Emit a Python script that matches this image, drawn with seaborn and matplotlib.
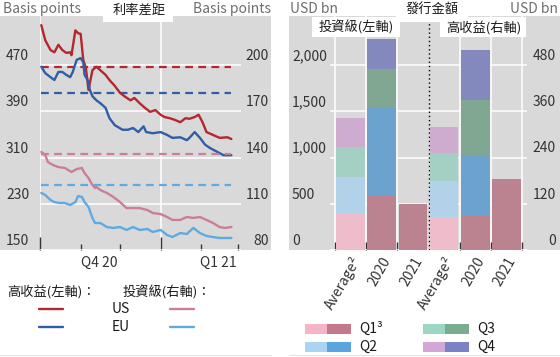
import numpy as np
import pandas as pd
import matplotlib
matplotlib.use("Agg")
from matplotlib import pyplot as plt
import matplotlib.dates as mdates
from matplotlib.patches import Rectangle
from matplotlib.lines import Line2D
from matplotlib.transforms import blended_transform_factory, ScaledTranslation
import seaborn as sns

# ---- spreads (left panel), basis points ----
hy_us_dates = ['2020-10-02', '2020-10-05', '2020-10-09', '2020-10-12', '2020-10-15', '2020-10-18',
               '2020-10-21', '2020-10-24', '2020-10-25', '2020-10-28', '2020-10-30', '2020-11-01',
               '2020-11-03', '2020-11-05', '2020-11-07', '2020-11-10', '2020-11-13', '2020-11-16',
               '2020-11-20', '2020-11-23', '2020-11-27', '2020-12-01', '2020-12-05', '2020-12-09',
               '2020-12-12', '2020-12-16', '2020-12-20', '2020-12-24', '2020-12-28', '2021-01-01',
               '2021-01-04', '2021-01-08', '2021-01-12', '2021-01-16', '2021-01-20', '2021-01-23',
               '2021-01-27', '2021-01-30', '2021-02-02', '2021-02-05', '2021-02-10', '2021-02-15',
               '2021-02-21', '2021-02-24']
hy_us = [539, 513, 496, 492, 505, 496, 491, 492, 487, 530, 525, 524, 479, 465, 427, 461, 467, 461,
         453, 444, 434, 422, 415, 409, 413, 404, 396, 389, 392, 384, 380, 378, 375, 371, 378, 377,
         380, 384, 371, 354, 349, 344, 345, 342]

hy_eu_dates = ['2020-10-02', '2020-10-05', '2020-10-09', '2020-10-12', '2020-10-15', '2020-10-18',
               '2020-10-21', '2020-10-24', '2020-10-26', '2020-10-29', '2020-11-01', '2020-11-03',
               '2020-11-04', '2020-11-07', '2020-11-08', '2020-11-10', '2020-11-13', '2020-11-16',
               '2020-11-20', '2020-11-23', '2020-11-27', '2020-12-03', '2020-12-07', '2020-12-11',
               '2020-12-15', '2020-12-19', '2020-12-21', '2020-12-26', '2021-01-01', '2021-01-06',
               '2021-01-10', '2021-01-16', '2021-01-21', '2021-01-23', '2021-01-27', '2021-01-31',
               '2021-02-04', '2021-02-08', '2021-02-13', '2021-02-18', '2021-02-24']
hy_eu = [467, 456, 449, 444, 458, 458, 453, 449, 458, 479, 482, 475, 453, 441, 427, 416, 409, 404,
         396, 378, 366, 358, 358, 361, 354, 364, 354, 352, 354, 349, 344, 345, 340, 344, 354, 344,
         332, 326, 320, 314, 314]

ig_us_dates = ['2020-10-02', '2020-10-05', '2020-10-07', '2020-10-11', '2020-10-15', '2020-10-20',
               '2020-10-25', '2020-10-29', '2020-11-02', '2020-11-04', '2020-11-07', '2020-11-10',
               '2020-11-12', '2020-11-13', '2020-11-16', '2020-11-21', '2020-11-26', '2020-12-01',
               '2020-12-06', '2020-12-11', '2020-12-16', '2020-12-22', '2020-12-26', '2021-01-01',
               '2021-01-06', '2021-01-10', '2021-01-16', '2021-01-21', '2021-01-26', '2021-01-31',
               '2021-02-05', '2021-02-10', '2021-02-15', '2021-02-19', '2021-02-24']
ig_us = [143.6, 141.6, 137.1, 135.1, 133.8, 133.2, 130.6, 132.5, 133.2, 129.9, 126.7, 122.2,
         120.2, 120.9, 118.9, 117.0, 114.4, 111.1, 107.2, 107.2, 107.2, 105.9, 104.0, 103.3,
         101.4, 99.5, 99.5, 101.4, 100.8, 101.4, 99.5, 97.5, 94.9, 94.3, 94.9]

ig_eu_dates = ['2020-10-02', '2020-10-05', '2020-10-09', '2020-10-12', '2020-10-16', '2020-10-20',
               '2020-10-24', '2020-10-28', '2020-10-30', '2020-11-02', '2020-11-04', '2020-11-07',
               '2020-11-10', '2020-11-12', '2020-11-16', '2020-11-21', '2020-11-26', '2020-12-01',
               '2020-12-06', '2020-12-11', '2020-12-16', '2020-12-22', '2020-12-26', '2021-01-01',
               '2021-01-06', '2021-01-10', '2021-01-16', '2021-01-21', '2021-01-26', '2021-01-31',
               '2021-02-05', '2021-02-10', '2021-02-15', '2021-02-24']
ig_eu = [117.0, 115.7, 112.4, 111.1, 110.5, 110.5, 109.2, 111.1, 115.0, 114.4, 111.1, 107.9,
         100.8, 97.5, 97.5, 94.9, 94.3, 94.9, 93.0, 94.9, 93.0, 93.6, 91.7, 93.0,
         89.7, 88.4, 91.0, 90.4, 94.3, 91.0, 89.1, 88.4, 87.8, 87.8]

# long-term averages (dashed)
hy_us_avg, hy_eu_avg = 466, 421
ig_us_avg, ig_eu_avg = 142, 122

left_ticks = [150, 230, 310, 390, 470]
right_ticks = [80, 110, 140, 170, 200]

# ---- issuance (right panel), USD bn ----
bar_cats = ['Average²', '2020', '2021']
ig_average = [403, 383, 324, 314]
ig_2020 = [595, 941, 422, 323]
ig_2021 = [497]
hy_average = [85, 94, 72, 68]
hy_2020 = [91, 156, 143, 128]
hy_2021 = [183]
ig_ticks = [0, 500, 1000, 1500, 2000]
ig_tick_labels = ['0', '500', '1,000', '1,500', '2,000']
hy_ticks = [0, 120, 240, 360, 480]

# ---- styles ----
W, H = 560, 357
GRAY = '#d9d9d9'
TICK_C = '#333333'
UNIT_C = '#6e6e6e'
C_HY_US, C_HY_EU = '#b3282d', '#2f5da8'
C_IG_US, C_IG_EU = '#cc7e95', '#5eaae3'
LIGHT = ['#f6b4c8', '#a9d4f2', '#9cd7c6', '#d2a6d6']
DARK = ['#c4788b', '#5ba5de', '#7aad90', '#7a82c6']
FS = 10

sns.set_theme(style="darkgrid", rc={"axes.facecolor": GRAY, "grid.color": "white",
                                    "grid.linewidth": 1.1})
plt.rcParams['font.family'] = ['Noto Sans CJK TC', 'DejaVu Sans']


def fig_box(x0, y0, x1, y1):
    return [x0 / W, 1 - y1 / H, (x1 - x0) / W, (y1 - y0) / H]


def fx(x):
    return x / W


def fy(y):
    return 1 - y / H


fig = plt.figure(figsize=(W / 100, H / 100), dpi=100)
fig.patch.set_facecolor('white')

# gray panel backgrounds
for x0, x1 in [(0, 271), (289, 560)]:
    fig.add_artist(Rectangle((fx(x0), fy(250)), (x1 - x0) / W, 234 / H, transform=fig.transFigure,
                             facecolor=GRAY, edgecolor='none', zorder=-1))
    fig.add_artist(Line2D([fx(x0), fx(x1)], [fy(355), fy(355)], transform=fig.transFigure,
                          color='#e4e4e4', lw=0.8))


def side_labels(ax, ticks, labels, x_px, ha):
    trans = blended_transform_factory(fig.transFigure, ax.transData) + \
        ScaledTranslation(0, 9 / 100, fig.dpi_scale_trans)
    for t, lab in zip(ticks, labels):
        ax.text(fx(x_px), t, lab, transform=trans, ha=ha, va='center', fontsize=FS, color=TICK_C)


def clean(ax):
    ax.set_xlabel('')
    ax.set_ylabel('')
    for s in ax.spines.values():
        s.set_visible(False)


# ================= left panel: spreads =================
ax1 = fig.add_axes(fig_box(40, 16, 241, 250))
ax1r = ax1.twinx()

hy = pd.concat([
    pd.DataFrame({'date': pd.to_datetime(hy_us_dates), 'bp': hy_us, 'region': 'US'}),
    pd.DataFrame({'date': pd.to_datetime(hy_eu_dates), 'bp': hy_eu, 'region': 'EU'}),
])
ig = pd.concat([
    pd.DataFrame({'date': pd.to_datetime(ig_us_dates), 'bp': ig_us, 'region': 'US'}),
    pd.DataFrame({'date': pd.to_datetime(ig_eu_dates), 'bp': ig_eu, 'region': 'EU'}),
])

start, end = pd.Timestamp(hy_us_dates[0]), pd.Timestamp(hy_us_dates[-1])
dash = (0, (3.5, 2.4))
ax1.hlines([hy_us_avg, hy_eu_avg], start, end, colors=[C_HY_US, C_HY_EU], linestyles=dash, lw=1.6)
sns.lineplot(data=hy, x='date', y='bp', hue='region', palette={'US': C_HY_US, 'EU': C_HY_EU},
             linewidth=1.7, legend=False, ax=ax1)
ax1r.hlines([ig_us_avg, ig_eu_avg], start, end, colors=[C_IG_US, C_IG_EU], linestyles=dash, lw=1.6)
sns.lineplot(data=ig, x='date', y='bp', hue='region', palette={'US': C_IG_US, 'EU': C_IG_EU},
             linewidth=1.7, legend=False, ax=ax1r)

ax1.set_xlim(pd.Timestamp('2020-10-01'), pd.Timestamp('2021-03-03 08:00'))
ax1.set_ylim(150, 554.8)
ax1r.set_ylim(80, 231.8)
ax1.set_yticks(left_ticks)
ax1.tick_params(axis='y', length=0, labelleft=False)
ax1r.set_yticks(right_ticks)
ax1r.tick_params(axis='y', length=0, labelright=False, right=False)
ax1r.grid(False)
ax1.xaxis.set_major_locator(mdates.MonthLocator(bymonth=[1, 4, 7, 10]))
ax1.xaxis.set_minor_locator(mdates.MonthLocator())
ax1.xaxis.set_major_formatter(plt.NullFormatter())
ax1.tick_params(axis='x', which='major', bottom=True, direction='in', length=9.4, width=1,
                color=TICK_C, labelbottom=False)
ax1.tick_params(axis='x', which='minor', bottom=True, direction='in', length=4.3, width=1,
                color=TICK_C)
ax1.grid(axis='x', which='minor', visible=False)
clean(ax1)
clean(ax1r)

side_labels(ax1, left_ticks, [str(t) for t in left_ticks], 6, 'left')
side_labels(ax1r, right_ticks, [str(t) for t in right_ticks], 269, 'right')

qtrans = blended_transform_factory(ax1.transData, fig.transFigure)
ax1.text(pd.Timestamp('2020-11-15'), fy(263), 'Q4 20', transform=qtrans, ha='center', va='center',
         fontsize=FS, color=TICK_C)
ax1.text(pd.Timestamp('2021-02-14'), fy(263), 'Q1 21', transform=qtrans, ha='center', va='center',
         fontsize=FS, color=TICK_C)

# ================= right panel: issuance =================
ax2 = fig.add_axes(fig_box(330, 16, 527, 250))
ax2r = ax2.twinx()


def stacked(ax, rows, positions):
    tops = [np.cumsum(r) for r in rows]
    for q in reversed(range(4)):
        keep = [i for i, t in enumerate(tops) if len(t) > q]
        df = pd.DataFrame({'pos': [positions[i] for i in keep], 'top': [tops[i][q] for i in keep]})
        pal = {positions[i]: (LIGHT if i == 0 else DARK)[q] for i in keep}
        sns.barplot(data=df, x='pos', y='top', hue='pos', palette=pal, native_scale=True,
                    width=0.92, errorbar=None, legend=False, linewidth=0, orient='x', ax=ax)


stacked(ax2, [ig_average, ig_2020, ig_2021], [0, 1, 2])
stacked(ax2r, [hy_average, hy_2020, hy_2021], [3, 4, 5])

ax2.axvline(2.5, color='black', lw=1, ls=(0, (1, 2)), zorder=3)
ax2.set_xlim(-0.66, 5.66)
ax2.set_ylim(0, 2530)
ax2r.set_ylim(0, 607)
ax2.set_xticks(range(6))
ax2.set_xticklabels(bar_cats * 2, rotation=60, ha='right', rotation_mode='anchor',
                    fontsize=FS, color=TICK_C)
ax2.set_xticks([-0.5, 0.5, 1.5, 3.5, 4.5, 5.5], minor=True)
ax2.tick_params(axis='x', which='major', length=0, pad=3)
ax2.tick_params(axis='x', which='minor', bottom=True, direction='in', length=5.8, width=1,
                color=TICK_C)
ax2.grid(axis='x', which='major', visible=False)
ax2.grid(axis='x', which='minor', color='white', lw=1.1)
ax2.set_yticks(ig_ticks)
ax2.tick_params(axis='y', length=0, labelleft=False)
ax2r.set_yticks(hy_ticks)
ax2r.tick_params(axis='y', length=0, labelright=False, right=False)
ax2r.grid(False)
clean(ax2)
clean(ax2r)

side_labels(ax2, ig_ticks, ig_tick_labels, 292, 'left')
side_labels(ax2r, hy_ticks, [str(t) for t in hy_ticks], 556, 'right')

# ---- headers, titles and boxes ----
fig.text(fx(3), fy(9), 'Basis points', ha='left', va='center', fontsize=FS, color=UNIT_C)
fig.text(fx(271), fy(9), 'Basis points', ha='right', va='center', fontsize=FS, color=UNIT_C)
fig.text(fx(290), fy(9), 'USD bn', ha='left', va='center', fontsize=FS, color=UNIT_C)
fig.text(fx(558), fy(9), 'USD bn', ha='right', va='center', fontsize=FS, color=UNIT_C)

for x0, y0, x1, y1 in [(103, 0, 173, 22), (396, 0, 468, 22), (312, 17, 400, 37), (440, 17, 526, 37)]:
    fig.add_artist(Rectangle((fx(x0), fy(y1)), (x1 - x0) / W, (y1 - y0) / H,
                             transform=fig.transFigure, facecolor='white', edgecolor='none',
                             zorder=4))
fig.text(fx(139), fy(10), '利率差距', ha='center', va='center', fontsize=9.5, color='#1a1a1a',
         zorder=5)
fig.text(fx(432), fy(9), '發行金額', ha='center', va='center', fontsize=9.5, color='#1a1a1a',
         zorder=5)
fig.text(fx(356), fy(27), '投資級(左軸)', ha='center', va='center', fontsize=9.5, color='#1a1a1a',
         zorder=5)
fig.text(fx(484), fy(28), '高收益(右軸)', ha='center', va='center', fontsize=9.5, color='#1a1a1a',
         zorder=5)

# ---- left legend ----
fig.text(fx(7), fy(292), '高收益(左軸)：', ha='left', va='center', fontsize=9.5, color='#1a1a1a')
fig.text(fx(123), fy(292), '投資級(右軸)：', ha='left', va='center', fontsize=9.5, color='#1a1a1a')
for yy, c_hy, c_ig, lab in [(309, C_HY_US, C_IG_US, 'US'), (327, C_HY_EU, C_IG_EU, 'EU')]:
    fig.add_artist(Line2D([fx(39), fx(63)], [fy(yy), fy(yy)], transform=fig.transFigure,
                          color=c_hy, lw=1.7))
    fig.add_artist(Line2D([fx(170), fx(194)], [fy(yy), fy(yy)], transform=fig.transFigure,
                          color=c_ig, lw=1.7))
    fig.text(fx(112), fy(yy), lab, ha='left', va='center', fontsize=FS, color='#1a1a1a')

# ---- right legend ----
for q, (x0, yc, lab) in enumerate([(305, 329, 'Q1³'), (305, 347, 'Q2'), (423, 329, 'Q3'),
                                   (423, 347, 'Q4')]):
    fig.add_artist(Rectangle((fx(x0), fy(yc + 5)), 22 / W, 10 / H, transform=fig.transFigure,
                             facecolor=LIGHT[q], edgecolor='none'))
    fig.add_artist(Rectangle((fx(x0 + 22), fy(yc + 5)), 24 / W, 10 / H, transform=fig.transFigure,
                             facecolor=DARK[q], edgecolor='none'))
    fig.text(fx(x0 + 54), fy(yc), lab, ha='left', va='center', fontsize=FS, color='#1a1a1a')

fig.savefig('out.png', dpi=100)
